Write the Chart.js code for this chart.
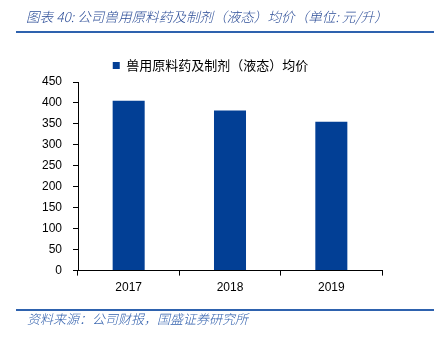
<!DOCTYPE html>
<html>
<head>
<meta charset="utf-8">
<script src="https://cdn.jsdelivr.net/npm/chart.js@4.4.1/dist/chart.umd.min.js"></script>
<style>
  html, body { margin: 0; padding: 0; background: #fff; }
  #wrap { position: relative; width: 439px; height: 345px; overflow: hidden; background: #fff; }
  #c { position: absolute; left: 0; top: 0; }
  .title { position: absolute; left: 26px; top: 6px; font-family: "Noto Sans CJK SC", sans-serif; font-style: italic; font-weight: 300; font-size: 13.6px; line-height: 20px; color: #2D4E98; white-space: nowrap; }
  .rule { position: absolute; left: 16px; width: 418px; height: 2px; background: #2E62AE; }
  .src { position: absolute; left: 27px; top: 310px; font-family: "Noto Sans CJK SC", sans-serif; font-style: italic; font-weight: 300; font-size: 13px; line-height: 18px; color: #3462AE; white-space: nowrap; }
</style>
</head>
<body>
<div id="wrap">
  <canvas id="c" width="439" height="345"></canvas>
  <div class="title">图表 40:&nbsp;公司兽用原料药及制剂（液态）均价（单位:&nbsp;元/升）</div>
  <div class="rule" style="top:31px"></div>
  <div class="rule" style="top:309px"></div>
  <div class="src">资料来源：公司财报，国盛证券研究所</div>
</div>
<script>
const categories = ['2017', '2018', '2019'];
const seriesName = '兽用原料药及制剂（液态）均价';
const priceValues = [405, 382, 355];
const yTicks = [0, 50, 100, 150, 200, 250, 300, 350, 400, 450];

new Chart(document.getElementById('c'), {
  type: 'bar',
  data: {
    labels: categories,
    datasets: [{
      label: seriesName,
      data: priceValues,
      backgroundColor: '#023F95',
      borderWidth: 0,
      barPercentage: 0.316,
      categoryPercentage: 1
    }]
  },
  options: {
    responsive: false,
    animation: false,
    layout: { padding: { left: 39, right: 57, top: 57, bottom: 45 } },
    plugins: {
      tooltip: { enabled: false },
      legend: {
        display: true,
        position: 'top',
        align: 'center',
        labels: {
          boxWidth: 7,
          boxHeight: 7,
          padding: 2,
          color: '#000',
          font: { family: '"Noto Sans CJK SC", sans-serif', size: 13 }
        }
      }
    },
    scales: {
      x: {
        grid: { display: true, drawOnChartArea: false, drawTicks: true, tickLength: 5, color: '#000', offset: true },
        border: { display: true, color: '#000', width: 1 },
        ticks: { color: '#000', padding: 5, font: { family: '"Liberation Sans", Arial, sans-serif', size: 12 } }
      },
      y: {
        min: 0,
        max: 450,
        afterFit: (axis) => { axis.width = 39; },
        afterBuildTicks: (axis) => { axis.ticks = yTicks.map(v => ({ value: v })); },
        grid: { display: true, drawOnChartArea: false, drawTicks: true, tickLength: 5, color: '#000' },
        border: { display: true, color: '#000', width: 1 },
        ticks: { color: '#000', padding: 11, font: { family: '"Liberation Sans", Arial, sans-serif', size: 12 } }
      }
    }
  }
});
</script>
</body>
</html>
